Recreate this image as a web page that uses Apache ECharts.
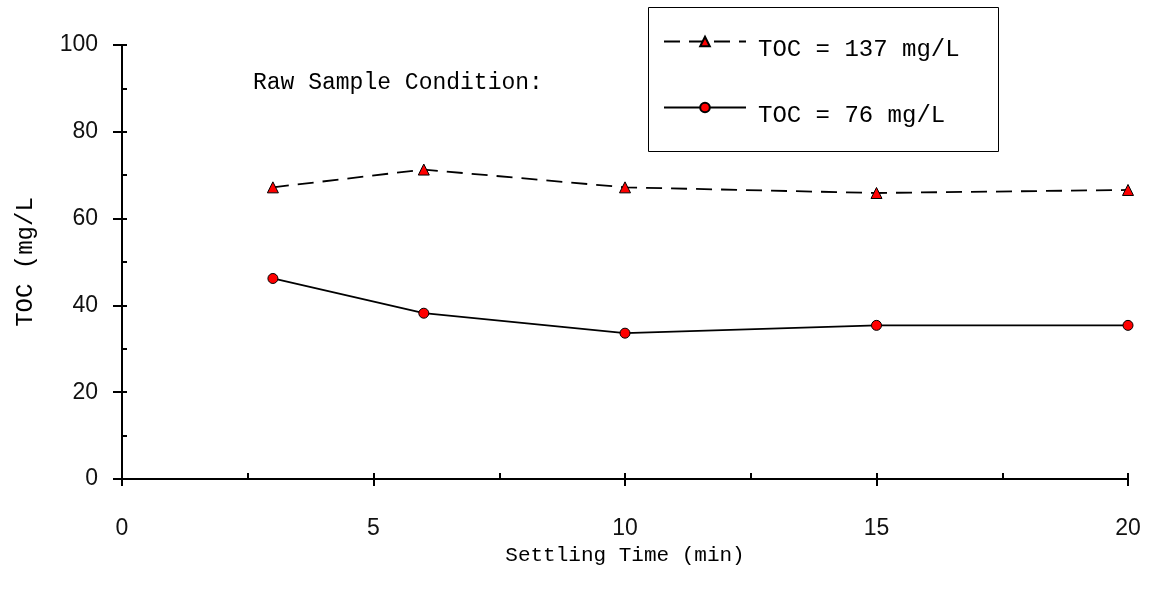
<!DOCTYPE html>
<html>
<head>
<meta charset="utf-8">
<script src="https://cdn.jsdelivr.net/npm/echarts@6/dist/echarts.min.js"></script>
<style>
  html, body { margin: 0; padding: 0; background: #fff; }
  #chart { width: 1149px; height: 598px; }
</style>
</head>
<body>
<div id="chart"></div>
<script>
// settling time (min)
const times = [3, 6, 10, 15, 20]
// TOC after settling (mg/L)
const toc137 = [67.2, 71.3, 67.2, 65.9, 66.6]
const toc76 = [46.2, 38.2, 33.6, 35.4, 35.4]
const seriesNames = ['TOC = 137 mg/L', 'TOC = 76 mg/L']

const monoFont = 'Liberation Mono'
const numFont = 'Liberation Sans'

let myChart = echarts.init(document.getElementById('chart'))
myChart.setOption({
  animation: false,
  backgroundColor: '#fff',
  grid: {
    left: 122,
    right: 21,
    top: 45,
    bottom: 119,
  },
  legend: {
    orient: 'vertical',
    left: 663,
    top: 21,
    padding: 0,
    itemGap: 25,
    itemWidth: 82,
    itemHeight: 12,
    data: seriesNames,
    formatter: '{t|{name}}',
    textStyle: {
      fontFamily: monoFont,
      fontSize: 24,
      color: '#000',
      rich: {
        // text sits a bit lower than the sample line, and further right
        t: {
          fontFamily: monoFont,
          fontSize: 24,
          color: '#000',
          lineHeight: 24,
          padding: [17, 0, 0, 7],
        },
      },
    },
  },
  graphic: [
    {
      type: 'rect',
      shape: { x: 648.5, y: 7.5, width: 350, height: 144 },
      style: { fill: 'none', stroke: '#000', lineWidth: 1 },
      z: 0,
    },
    {
      type: 'text',
      left: 253,
      top: 71,
      style: {
        text: 'Raw Sample Condition:',
        font: '23px "Liberation Mono"',
        fill: '#000',
      },
    },
  ],
  xAxis: [
    {
      type: 'value',
      min: 0,
      max: 20,
      interval: 5,
      position: 'bottom',
      name: 'Settling Time (min)',
      nameLocation: 'middle',
      nameGap: 60,
      nameTextStyle: { fontFamily: monoFont, fontSize: 21, color: '#000' },
      axisLine: { onZero: false, lineStyle: { color: '#000', width: 2 } },
      axisTick: { inside: false, length: 7, lineStyle: { color: '#000', width: 2 } },
      axisLabel: { margin: 38, fontFamily: numFont, fontSize: 23, color: '#111' },
      splitLine: { show: false },
    },
    {
      // inner ticks every 2.5
      type: 'value',
      min: 0,
      max: 20,
      interval: 2.5,
      position: 'bottom',
      axisLine: { show: false },
      axisTick: { inside: true, length: 6, lineStyle: { color: '#000', width: 2 } },
      axisLabel: { show: false },
      splitLine: { show: false },
    },
  ],
  yAxis: [
    {
      type: 'value',
      min: 0,
      max: 100,
      interval: 20,
      position: 'left',
      name: 'TOC (mg/L',
      nameLocation: 'middle',
      nameGap: 84,
      nameTextStyle: { fontFamily: monoFont, fontSize: 24, color: '#000' },
      axisLine: { show: true, onZero: false, lineStyle: { color: '#000', width: 2 } },
      axisTick: { inside: false, length: 9, lineStyle: { color: '#000', width: 2 } },
      axisLabel: { margin: 24, fontFamily: numFont, fontSize: 23, color: '#111' },
      splitLine: { show: false },
    },
    {
      // inner ticks every 10
      type: 'value',
      min: 0,
      max: 100,
      interval: 10,
      position: 'left',
      axisLine: { show: false },
      axisTick: { show: true, inside: true, length: 5, lineStyle: { color: '#000', width: 2 } },
      axisLabel: { show: false },
      splitLine: { show: false },
    },
  ],
  series: [
    {
      name: seriesNames[0],
      type: 'line',
      xAxisIndex: 0,
      yAxisIndex: 0,
      symbol: 'triangle',
      symbolSize: 11,
      itemStyle: { color: '#ff0000', borderColor: '#000', borderWidth: 1 },
      lineStyle: { color: '#000', width: 1.8, type: [16, 9] },
      data: times.map((t, i) => [t, toc137[i]]),
    },
    {
      name: seriesNames[1],
      type: 'line',
      xAxisIndex: 0,
      yAxisIndex: 0,
      symbol: 'circle',
      symbolSize: 10,
      itemStyle: { color: '#ff0000', borderColor: '#000', borderWidth: 1 },
      lineStyle: { color: '#000', width: 1.8, type: 'solid' },
      data: times.map((t, i) => [t, toc76[i]]),
    },
  ],
})
</script>
</body>
</html>
